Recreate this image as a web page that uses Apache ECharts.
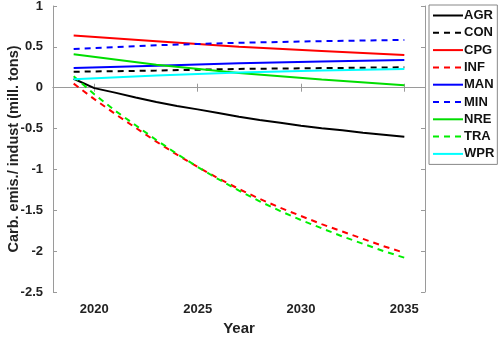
<!DOCTYPE html>
<html>
<head>
<meta charset="utf-8">
<script src="https://cdn.jsdelivr.net/npm/echarts@6/dist/echarts.min.js"></script>
<style>
  html, body { margin: 0; padding: 0; background: #fff; }
  #chart { width: 498px; height: 337px; }
</style>
</head>
<body>
<div id="chart"></div>
<script>
// years for the curved series
var yearsFull = [2019, 2020, 2021, 2022, 2023, 2024, 2025, 2026, 2027, 2028, 2029, 2030, 2031, 2032, 2033, 2034, 2035];
// few points for the near-straight series
var yearsShort = [2019, 2023, 2027, 2031, 2035];
var xTicks = [2020, 2025, 2030, 2035];

var agr = [0.11, -0.005, -0.06, -0.12, -0.175, -0.225, -0.265, -0.31, -0.355, -0.395, -0.43, -0.465, -0.495, -0.52, -0.55, -0.575, -0.60];
var inf = [0.05, -0.14, -0.32, -0.49, -0.66, -0.82, -0.97, -1.11, -1.24, -1.36, -1.47, -1.57, -1.67, -1.76, -1.85, -1.94, -2.02];
var tra = [0.14, -0.08, -0.28, -0.46, -0.64, -0.81, -0.97, -1.12, -1.26, -1.39, -1.51, -1.62, -1.72, -1.82, -1.91, -2.00, -2.08];

var con = [0.195, 0.21, 0.23, 0.24, 0.25];
var cpg = [0.64, 0.57, 0.50, 0.45, 0.40];
var man = [0.24, 0.27, 0.30, 0.32, 0.34];
var min = [0.475, 0.52, 0.55, 0.57, 0.585];
var nre = [0.41, 0.28, 0.18, 0.10, 0.03];
var wpr = [0.105, 0.15, 0.185, 0.21, 0.23];

function pairs(xs, ys) {
  return xs.map(function (x, i) { return [x, ys[i]]; });
}

var chartDom = document.getElementById('chart');
var myChart = echarts.init(chartDom);
var option;

var dash = [6, 5];
function line(name, xs, ys, color, dashed) {
  return {
    name: name,
    type: 'line',
    data: pairs(xs, ys),
    symbol: 'none',
    lineStyle: { color: color, width: 2, type: dashed ? dash : 'solid' },
    itemStyle: { color: color }
  };
}

var axisGray = '#9a9a9a';
var fontFam = 'Liberation Sans, Arial, sans-serif';

option = {
  animation: false,
  grid: { left: 53, right: 73, top: 6, bottom: 45, outerBoundsMode: 'none' },
  legend: {
    orient: 'vertical',
    left: 429,
    top: 5,
    width: 67,
    padding: [4, 3, 4, 3],
    itemGap: 4.3,
    itemWidth: 30,
    itemHeight: 13,
    itemStyle: { opacity: 0 },   // hide the marker, keep the line sample
    borderColor: '#888',
    borderWidth: 1,
    backgroundColor: '#fff',
    textStyle: { fontFamily: fontFam, fontWeight: 'bold', fontSize: 13, color: '#111', padding: [0, 0, 0, -4] },
    data: ['AGR', 'CON', 'CPG', 'INF', 'MAN', 'MIN', 'NRE', 'TRA', 'WPR']
  },
  xAxis: [{
    type: 'value',
    min: 2018,
    max: 2036,
    name: 'Year',
    nameLocation: 'middle',
    nameGap: 29,
    nameMoveOverlap: false,
    nameTextStyle: { fontFamily: fontFam, fontWeight: 'bold', fontSize: 15, color: '#222' },
    axisLine: { show: true, lineStyle: { color: axisGray } },
    axisTick: { show: true, inside: true, length: 4, lineStyle: { color: axisGray }, customValues: xTicks },
    axisLabel: {
      fontFamily: fontFam, fontWeight: 'bold', fontSize: 13, color: '#222', margin: 11,
      customValues: xTicks,
      formatter: function (v) { return String(v); }
    },
    splitLine: { show: false }
  }, {
    type: 'value',
    position: 'top',
    min: 2018,
    max: 2036,
    axisLine: { show: true, lineStyle: { color: axisGray } },
    axisTick: { show: true, inside: true, length: 4, lineStyle: { color: axisGray }, customValues: xTicks },
    axisLabel: { show: false },
    splitLine: { show: false }
  }],
  yAxis: [{
    type: 'value',
    min: -2.5,
    max: 1,
    interval: 0.5,
    name: 'Carb. emis./ indust (mill. tons)',
    nameLocation: 'middle',
    nameGap: 32,
    nameMoveOverlap: false,
    nameTextStyle: { fontFamily: fontFam, fontWeight: 'bold', fontSize: 14.5, color: '#222' },
    axisLine: { show: true, lineStyle: { color: axisGray } },
    axisTick: { show: true, inside: true, length: 4, lineStyle: { color: axisGray } },
    axisLabel: { fontFamily: fontFam, fontWeight: 'bold', fontSize: 13, color: '#222', margin: 10 },
    splitLine: { show: false }
  }, {
    type: 'value',
    position: 'right',
    min: -2.5,
    max: 1,
    interval: 0.5,
    axisLine: { show: true, lineStyle: { color: axisGray } },
    axisTick: { show: true, inside: true, length: 4, lineStyle: { color: axisGray } },
    axisLabel: { show: false },
    splitLine: { show: false }
  }],
  series: [
    line('AGR', yearsFull, agr, '#000000', false),
    line('CON', yearsShort, con, '#000000', true),
    line('CPG', yearsShort, cpg, '#ff0000', false),
    line('INF', yearsFull, inf, '#ff0000', true),
    line('MAN', yearsShort, man, '#0000ff', false),
    line('MIN', yearsShort, min, '#0000ff', true),
    line('NRE', yearsShort, nre, '#00dd00', false),
    line('TRA', yearsFull, tra, '#00ee00', true),
    line('WPR', yearsShort, wpr, '#00ffff', false)
  ]
};

option && myChart.setOption(option);
</script>
</body>
</html>
